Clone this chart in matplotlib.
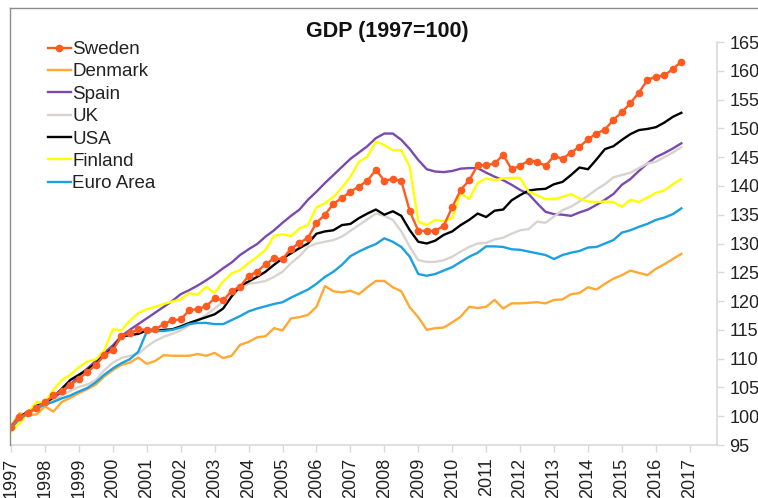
import numpy as np
import matplotlib.pyplot as plt
from matplotlib.lines import Line2D

plt.rcParams['font.family'] = ['Liberation Sans', 'DejaVu Sans']

# quarterly, 1997Q1 .. 2016Q4
sweden = [98.2, 99.8, 100.6, 101.5, 102.4, 103.6, 104.4, 105.4, 106.5, 107.7,
          108.9, 110.6, 111.5, 113.9, 114.4, 115.1, 115.0, 115.1, 116.0, 116.7,
          116.8, 118.4, 118.6, 119.1, 120.5, 120.1, 121.8, 122.5, 124.4, 125.1,
          126.4, 127.4, 127.3, 129.1, 130.1, 131.0, 133.6, 135.0, 136.9, 137.9,
          139.0, 139.9, 140.9, 142.8, 140.9, 141.2, 140.9, 135.6, 132.2, 132.2,
          132.2, 133.1, 136.3, 139.3, 141.0, 143.6, 143.6, 143.9, 145.4, 142.9,
          143.5, 144.4, 144.2, 143.5, 145.2, 144.7, 145.8, 146.8, 148.1, 149.1,
          149.8, 151.5, 152.8, 154.4, 156.2, 158.4, 159.0, 159.2, 160.3, 161.6]
denmark = [98.3, 100.5, 100.2, 100.3, 101.7, 100.8, 102.5, 103.2, 104.0, 104.7,
           105.5, 106.9, 108.0, 108.9, 109.3, 110.2, 109.1, 109.6, 110.6, 110.5,
           110.5, 110.5, 110.8, 110.5, 111.0, 110.1, 110.5, 112.4, 112.9, 113.7,
           113.9, 115.3, 114.9, 117.0, 117.2, 117.6, 119.0, 122.6, 121.7, 121.5,
           121.8, 121.2, 122.4, 123.5, 123.5, 122.4, 121.7, 118.9, 117.2, 115.0,
           115.3, 115.4, 116.3, 117.3, 119.0, 118.8, 119.0, 120.2, 118.7, 119.6,
           119.6, 119.7, 119.8, 119.6, 120.2, 120.3, 121.2, 121.4, 122.4, 122.0,
           123.0, 123.9, 124.5, 125.3, 124.9, 124.5, 125.6, 126.4, 127.3, 128.2]
spain = [98.3, 99.8, 100.8, 101.6, 102.3, 103.2, 104.2, 105.5, 107.0, 108.3,
         109.6, 111.0, 112.3, 113.9, 115.0, 116.0, 117.0, 118.0, 119.0, 120.0,
         121.2, 121.9, 122.7, 123.6, 124.6, 125.7, 126.7, 128.0, 129.0, 129.9,
         131.2, 132.3, 133.6, 134.8, 135.9, 137.6, 139.0, 140.5, 141.9, 143.3,
         144.7, 145.8, 146.9, 148.3, 149.1, 149.1, 148.0, 146.4, 144.5, 142.9,
         142.5, 142.4, 142.6, 143.0, 143.1, 143.1, 142.3, 141.6, 141.0, 140.2,
         139.3, 138.6, 137.0, 135.5, 135.1, 135.0, 134.8, 135.4, 135.9, 136.7,
         137.6, 138.6, 140.2, 141.2, 142.6, 143.9, 145.0, 145.7, 146.5, 147.4]
uk = [98.6, 99.5, 100.4, 101.3, 101.9, 102.7, 103.6, 104.4, 105.1, 105.5,
      106.3, 108.0, 109.3, 110.1, 110.5, 110.8, 112.1, 113.1, 113.8, 114.3,
      114.9, 115.8, 116.7, 117.6, 118.7, 119.9, 121.3, 122.2, 123.0, 123.2,
      123.5, 124.2, 125.1, 126.6, 127.8, 129.4, 130.0, 130.3, 130.6, 131.2,
      132.2, 133.2, 134.2, 135.2, 134.8, 134.1, 132.1, 129.4, 127.1, 126.8,
      126.8, 127.1, 127.7, 128.6, 129.4, 130.0, 130.1, 130.7, 131.0, 131.7,
      132.3, 132.5, 133.8, 133.6, 134.7, 135.8, 136.4, 137.3, 138.3, 139.4,
      140.3, 141.5, 141.9, 142.3, 143.1, 143.9, 144.2, 145.0, 145.8, 146.7]
usa = [98.2, 99.8, 100.8, 101.8, 102.3, 103.3, 104.8, 106.3, 107.2, 108.1,
       109.2, 110.6, 111.8, 113.8, 114.1, 114.3, 114.9, 114.9, 115.0, 115.1,
       115.6, 116.2, 116.7, 117.2, 117.7, 118.7, 120.8, 122.6, 123.4, 124.2,
       125.1, 126.3, 127.4, 128.3, 129.2, 130.0, 131.7, 132.1, 132.3, 133.2,
       133.4, 134.4, 135.2, 135.9, 135.0, 135.6, 134.8, 132.3, 130.3, 130.0,
       130.5, 131.5, 132.1, 133.2, 134.1, 135.2, 134.6, 135.7, 135.9, 137.5,
       138.4, 139.2, 139.4, 139.5, 140.3, 140.7, 141.9, 143.2, 142.9, 144.6,
       146.4, 146.9, 148.0, 149.0, 149.7, 149.9, 150.2, 151.0, 152.0, 152.7]
finland = [97.3, 98.8, 100.5, 102.5, 102.4, 104.6, 106.3, 107.2, 108.5, 109.5,
           109.9, 111.4, 115.1, 114.9, 116.6, 117.9, 118.6, 119.0, 119.5, 119.9,
           120.3, 121.4, 121.1, 122.5, 121.4, 123.4, 124.8, 125.4, 126.6, 127.7,
           128.9, 131.3, 131.6, 131.3, 132.6, 133.2, 136.3, 137.0, 138.1, 139.7,
           141.6, 144.2, 145.1, 147.7, 147.1, 146.2, 146.2, 143.3, 133.8, 133.2,
           134.1, 133.9, 134.4, 138.8, 137.7, 140.5, 141.3, 141.0, 141.3, 141.4,
           141.4, 139.0, 138.4, 137.7, 137.7, 138.1, 138.6, 137.8, 137.3, 137.2,
           137.3, 137.2, 136.4, 137.6, 137.2, 138.0, 138.8, 139.2, 140.3, 141.2]
euro = [97.9, 99.5, 100.5, 101.4, 102.0, 102.5, 103.1, 103.6, 104.3, 104.9,
        105.9, 107.2, 108.3, 109.2, 109.9, 111.2, 114.7, 114.8, 114.8, 115.0,
        115.4, 116.0, 116.2, 116.2, 116.0, 116.0, 116.7, 117.4, 118.2, 118.7,
        119.1, 119.5, 119.8, 120.6, 121.3, 122.0, 123.0, 124.2, 125.1, 126.3,
        127.8, 128.6, 129.3, 129.9, 130.9, 130.3, 129.4, 127.7, 124.7, 124.4,
        124.7, 125.3, 125.9, 126.8, 127.7, 128.4, 129.5, 129.5, 129.4, 129.0,
        128.9, 128.6, 128.3, 128.0, 127.3, 128.0, 128.4, 128.7, 129.3, 129.4,
        130.0, 130.6, 131.9, 132.3, 132.9, 133.4, 134.1, 134.5, 135.1, 136.1]

years = list(range(1997, 2018))
t = 1997 + np.arange(len(sweden)) / 4.0

fig = plt.figure(figsize=(7.58, 4.98), dpi=100)
ax = fig.add_axes([11 / 758, 1 - 445 / 498, 706 / 758, 403 / 498])

ax.plot(t, sweden, color='#ff5a1f', lw=1.7, marker='o', ms=4.5, label='Sweden', zorder=9)
ax.plot(t, denmark, color='#ffa935', lw=1.7, label='Denmark')
ax.plot(t, spain, color='#7a4ab0', lw=1.7, label='Spain')
ax.plot(t, uk, color='#d9d3cd', lw=1.7, label='UK')
ax.plot(t, usa, color='#000000', lw=1.7, label='USA')
ax.plot(t, finland, color='#ffff00', lw=1.7, label='Finland')
ax.plot(t, euro, color='#1ba1e2', lw=1.7, label='Euro Area')

ax.set_xlim(1997, 1997 + 706 / 33.94)
ax.set_ylim(95, 165)
ax.set_xticks(years)
ax.set_xticklabels([str(y) for y in years], rotation=90)
ax.set_yticks(range(95, 166, 5))

ax.yaxis.tick_right()
for s in ['left', 'top']:
    ax.spines[s].set_visible(False)
for s in ['right', 'bottom']:
    ax.spines[s].set_color('#d9d9d9')
    ax.spines[s].set_linewidth(1.2)
ax.tick_params(axis='both', colors='#d9d9d9', labelcolor='#222222',
               labelsize=13, length=5, width=1)
ax.tick_params(axis='x', pad=4)
ax.tick_params(axis='y', pad=4)

fig.text(387 / 758, 1 - 31 / 498, 'GDP (1997=100)', ha='center', va='center',
         fontsize=15.5, fontweight='bold', color='#111111')

ax.legend(loc='upper left', bbox_to_anchor=(48 / 758, 1 - 41 / 498),
          bbox_transform=fig.transFigure, frameon=False, fontsize=13.5,
          handlelength=1.2, handletextpad=0.1, labelspacing=0.28,
          borderpad=0, borderaxespad=0, labelcolor='#222222')

# outer frame of the original chart
fig.add_artist(Line2D([10 / 758, 1], [1 - 8 / 498, 1 - 8 / 498],
                      transform=fig.transFigure, color='#8c8c8c', lw=1))
fig.add_artist(Line2D([10 / 758, 10 / 758], [1 - 8 / 498, 1 - 445 / 498],
                      transform=fig.transFigure, color='#8c8c8c', lw=1))

fig.savefig('out.png', dpi=100)
